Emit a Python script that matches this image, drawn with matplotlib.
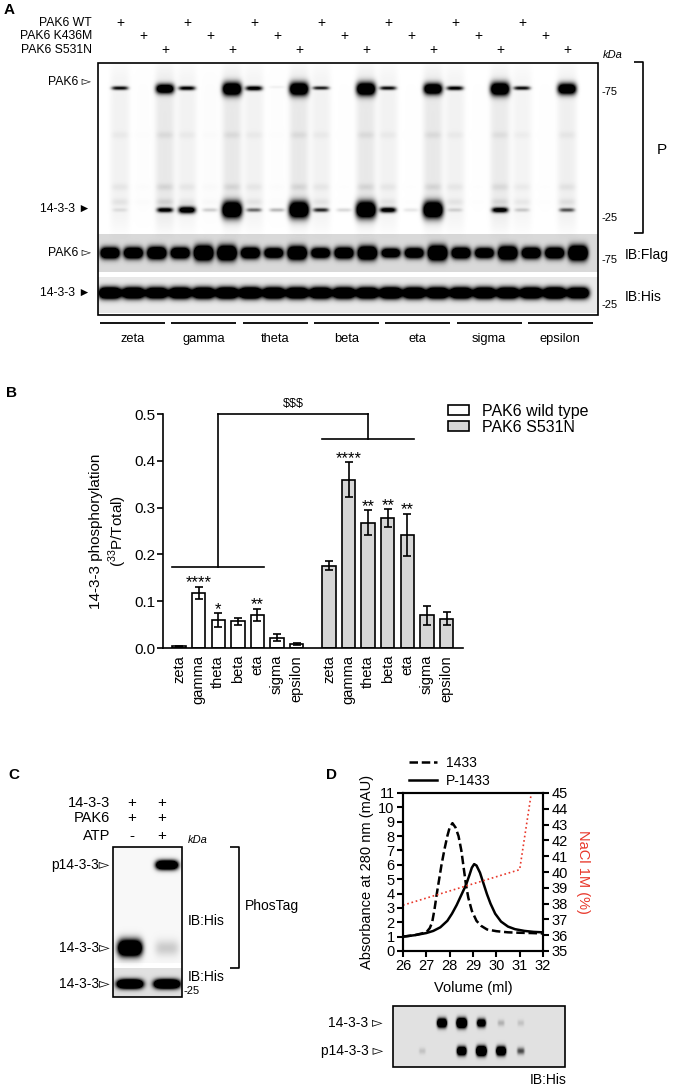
import numpy as np
import matplotlib
matplotlib.use('Agg')
import matplotlib.pyplot as plt
from matplotlib import font_manager
from matplotlib.patches import Patch, Rectangle
from matplotlib.ticker import FormatStrFormatter, MultipleLocator

# ---------------- data ----------------
isoforms = ['zeta', 'gamma', 'theta', 'beta', 'eta', 'sigma', 'epsilon']
constructs = ['PAK6 WT', 'PAK6 K436M', 'PAK6 S531N']

auto_pak6 = [[0.55, 0.0, 0.9], [0.6, 0.0, 1.0], [0.65, 0.03, 1.0], [0.5, 0.0, 1.0],
             [0.55, 0.0, 0.95], [0.6, 0.0, 1.0], [0.55, 0.0, 0.95]]
phospho_1433 = [[0.05, 0.0, 0.6], [0.75, 0.1, 1.0], [0.3, 0.15, 1.0], [0.45, 0.08, 1.0],
                [0.65, 0.05, 1.0], [0.08, 0.0, 0.65], [0.1, 0.0, 0.35]]
lane_smear = [[0.6, 0.1, 1.0], [0.6, 0.15, 1.0], [0.6, 0.1, 1.0], [0.6, 0.05, 1.0],
              [0.6, 0.05, 1.0], [0.6, 0.05, 0.9], [0.5, 0.05, 0.7]]
flag_total = [[0.85, 0.85, 0.9], [0.85, 1.0, 1.0], [0.85, 0.8, 0.95], [0.8, 0.85, 0.95],
              [0.75, 0.8, 1.0], [0.85, 0.8, 0.95], [0.85, 0.85, 1.0]]
his_total = [[1.0, 0.95, 0.9], [0.95, 0.95, 1.0], [1.0, 0.95, 0.95], [0.95, 0.95, 0.95],
             [1.0, 0.95, 0.95], [0.95, 0.95, 0.95], [0.95, 1.0, 0.9]]

# B: 14-3-3 phosphorylation (33P/Total), mean and error
wt_mean = [0.004, 0.118, 0.060, 0.057, 0.071, 0.022, 0.0085]
wt_err = [0.001, 0.013, 0.015, 0.008, 0.013, 0.007, 0.002]
sn_mean = [0.176, 0.360, 0.268, 0.277, 0.242, 0.070, 0.063]
sn_err = [0.010, 0.037, 0.027, 0.019, 0.045, 0.020, 0.014]
wt_stars = ['', '****', '*', '', '**', '', '']
sn_stars = ['', '****', '**', '**', '**', '', '']

# C: PhosTag blot
c_rows = ['14-3-3', 'PAK6', 'ATP']
c_signs = [['+', '+'], ['+', '+'], ['-', '+']]
c_phospho = [0.0, 1.0]
c_unphos = [1.0, 0.08]
c_total = [1.0, 1.0]

# D: elution profiles
vol_1433 = [26.0, 26.5, 27.0, 27.15, 27.25, 27.35, 27.45, 27.55, 27.65, 27.78, 27.9, 28.0,
            28.12, 28.25, 28.38, 28.5, 28.6, 28.7, 28.8, 28.95, 29.15, 29.35, 29.6, 30.0,
            30.5, 31.0, 31.5, 32.0]
abs_1433 = [1.0, 1.1, 1.3, 1.6, 2.0, 2.9, 4.0, 5.0, 6.0, 7.1, 8.0, 8.6,
            8.9, 8.6, 8.0, 7.0, 5.8, 4.6, 3.7, 2.8, 2.1, 1.75, 1.5, 1.38,
            1.3, 1.27, 1.25, 1.22]
vol_p1433 = [26.0, 26.5, 27.0, 27.3, 27.6, 27.9, 28.1, 28.3, 28.5, 28.7, 28.85, 28.95,
             29.05, 29.15, 29.3, 29.45, 29.6, 29.75, 29.95, 30.2, 30.5, 30.8, 31.2, 31.6, 32.0]
abs_p1433 = [1.0, 1.1, 1.25, 1.4, 1.65, 2.1, 2.6, 3.2, 3.9, 4.6, 5.3, 5.8,
             6.05, 5.95, 5.45, 4.7, 3.95, 3.3, 2.6, 2.05, 1.7, 1.52, 1.4, 1.33, 1.3]
vol_nacl = [26.0, 31.0, 31.5]
nacl_pct = [37.9, 40.15, 45.0]
dot_1433 = [0.0, 0.0, 0.85, 1.0, 0.65, 0.08, 0.05]
dot_p1433 = [0.0, 0.05, 0.0, 0.8, 1.0, 0.85, 0.25]

# ---------------- fonts ----------------
installed = {f.name for f in font_manager.fontManager.ttflist}
plt.rcParams['font.family'] = ['Liberation Sans', 'DejaVu Sans']
plt.rcParams['mathtext.fontset'] = 'custom'
plt.rcParams['mathtext.rm'] = 'Liberation Sans'
if 'Liberation Sans Narrow' in installed:
    A_FONT = ['Liberation Sans Narrow', 'DejaVu Sans']
    A_SIZE = 10
else:
    A_FONT = ['Liberation Sans', 'DejaVu Sans']
    A_SIZE = 8.8

W, H = 674, 1092
fig = plt.figure(figsize=(W / 100, H / 100), dpi=100)
ov = fig.add_axes([0, 0, 1, 1])
ov.axis('off')


def px_axes(x0, y0, x1, y1):
    return fig.add_axes([x0 / W, 1 - y1 / H, (x1 - x0) / W, (y1 - y0) / H])


def put(x, y, s, size=10, ha='left', va='center', **kw):
    ov.text(x, y, s, fontsize=size, ha=ha, va=va, **kw)


def line(xs, ys, lw=1.2):
    ov.plot(xs, ys, color='k', lw=lw, solid_capstyle='butt')


def blot(x0, y0, x1, y1, strips, bands):
    w, h = x1 - x0, y1 - y0
    yy, xx = np.mgrid[0:h, 0:w] + 0.5
    img = np.zeros((h, w))
    for r0, r1, level in strips:
        img[r0:r1] = level
    for cx, cy, hw, hh, amp, py in bands:
        img += amp * np.exp(-np.abs((xx - cx) / hw) ** 4 - np.abs((yy - cy) / hh) ** py)
    ov.imshow(np.clip(img, 0, 1), cmap='gray_r', vmin=0, vmax=1,
              extent=(x0, x1, y1, y0), interpolation='bilinear')
    ov.add_patch(Rectangle((x0, y0), w, h, fill=False, ec='k', lw=1.2))


# ---------------- panel A ----------------
bx0, by0, bx1, by1 = 98, 63, 598, 315


def p_lane(g, k):
    return 22 + 67 * g + (0, 23, 45)[k]


def low_lane(g, k):
    return 12 + 23.4 * (3 * g + k)


bands = []
for g in range(7):
    for k in range(3):
        cx = p_lane(g, k)
        s = lane_smear[g][k]
        bands.append((cx, 85, 10, 82, 0.09 * s, 8))
        for cy, a in ((72, 0.06), (124, 0.08), (139, 0.10)):
            bands.append((cx, cy, 8.5, 3.5, a * s, 2))
        v = auto_pak6[g][k]
        bands.append((cx, 24 + 2 * v, 8 + 1.5 * v ** 3, 1.5 + 5 * v ** 4, 1.7 * v, 2))
        v = phospho_1433[g][k]
        bands.append((cx, 147, 7.5 + 2.5 * v ** 3, 2 + 6 * v ** 5, 1.8 * v, 2))
        cx = low_lane(g, k)
        v = flag_total[g][k]
        bands.append((cx, 190, 9.5, 3 + 4 * v ** 3, 2.2 * v, 2))
        v = his_total[g][k]
        bands.append((cx, 230, 11, 5.5, 2.2 * v, 2))
blot(bx0, by0, bx1, by1, [(171, 209, 0.15), (214, 250, 0.09)], bands)

put(4, 10, 'A', 11, weight='bold')
for r, (name, y) in enumerate(zip(constructs, (23, 36, 50))):
    put(92, y, name, A_SIZE, ha='right', family=A_FONT)
    for g in range(7):
        put(bx0 + p_lane(g, r), y, '+', 10, ha='center')

put(91, 82, 'PAK6 \u25bb', A_SIZE, ha='right', family=A_FONT)
put(91, 209, '14-3-3 \u25ba', A_SIZE, ha='right', family=A_FONT)
put(91, 253, 'PAK6 \u25bb', A_SIZE, ha='right', family=A_FONT)
put(91, 293, '14-3-3 \u25ba', A_SIZE, ha='right', family=A_FONT)

put(613, 55, 'kDa', 8, ha='center', style='italic', family=A_FONT)
for y, mw in ((92, '-75'), (218, '-25'), (260, '-75'), (305, '-25')):
    put(602, y, mw, 8, family=A_FONT)
put(625, 255, 'IB:Flag', 10)
put(625, 297, 'IB:His', 10)
line([634, 643, 643, 634], [62, 62, 233, 233])
put(657, 150, 'P', 11)

for g, name in enumerate(isoforms):
    x0 = 100 + 71.3 * g
    line([x0, x0 + 65], [323, 323], lw=1.3)
    put(x0 + 32.5, 339, name, A_SIZE + 0.5, ha='center', family=A_FONT)

# ---------------- panel B ----------------
put(6, 393, 'B', 11, weight='bold')
axb = px_axes(163, 414, 463, 648)
pos_wt = np.arange(7)
pos_sn = np.arange(7) + 7.65
bw = 0.68
axb.bar(pos_wt, wt_mean, bw, color='white', edgecolor='k', lw=1.2, label='PAK6 wild type', zorder=2)
axb.bar(pos_sn, sn_mean, bw, color='#d6d6d6', edgecolor='k', lw=1.2, label='PAK6 S531N', zorder=2)
axb.errorbar(pos_wt, wt_mean, yerr=wt_err, fmt='none', ecolor='k', elinewidth=1.2,
             capsize=3, capthick=1.2, zorder=3)
axb.errorbar(pos_sn, sn_mean, yerr=sn_err, fmt='none', ecolor='k', elinewidth=1.2,
             capsize=3, capthick=1.2, zorder=3)
for pos, mean, err, stars in ((pos_wt, wt_mean, wt_err, wt_stars), (pos_sn, sn_mean, sn_err, sn_stars)):
    for x, m, e, s in zip(pos, mean, err, stars):
        if s:
            axb.text(x, m + e + 0.008, s, ha='center', va='center', fontsize=12)

# group comparison bracket
for pos, yb in ((pos_wt, 0.173), (pos_sn, 0.446)):
    axb.plot([pos[0] - bw / 2, pos[4] + bw / 2], [yb, yb], color='k', lw=1.2, clip_on=False)
    xc = (pos[0] + pos[4]) / 2
    axb.plot([xc, xc], [yb, 0.5], color='k', lw=1.2, clip_on=False)
xl, xr = (pos_wt[0] + pos_wt[4]) / 2, (pos_sn[0] + pos_sn[4]) / 2
axb.plot([xl, xr], [0.5, 0.5], color='k', lw=1.2, clip_on=False)
axb.text((xl + xr) / 2, 0.522, '$$$', ha='center', va='center', fontsize=9)

axb.set_xlim(-0.82, 14.49)
axb.set_ylim(0, 0.5)
axb.set_xticks(np.concatenate([pos_wt, pos_sn]))
axb.set_xticklabels(isoforms + isoforms, rotation=90, fontsize=10.5, va='top')
axb.tick_params(axis='x', length=0, pad=5)
axb.yaxis.set_major_locator(MultipleLocator(0.1))
axb.yaxis.set_major_formatter(FormatStrFormatter('%.1f'))
axb.tick_params(axis='y', labelsize=11, length=4, width=1.2, pad=1.5)
for side in ('top', 'right'):
    axb.spines[side].set_visible(False)
for side in ('left', 'bottom'):
    axb.spines[side].set_linewidth(1.2)
axb.set_ylabel('14-3-3 phosphorylation\n($^{33}$P/Total)', fontsize=11)
axb.yaxis.label.set(rotation_mode='default', ha='center', va='center')
axb.yaxis.set_label_coords(-0.18, 0.5)
axb.legend(handles=[Patch(fc='white', ec='k', lw=1.2), Patch(fc='#d6d6d6', ec='k', lw=1.2)],
           labels=['PAK6 wild type', 'PAK6 S531N'], loc='upper left',
           bbox_to_anchor=(448 / W, 1 - 404 / H), bbox_transform=fig.transFigure,
           frameon=False, borderpad=0, borderaxespad=0, handlelength=1.3, handleheight=0.6,
           handletextpad=0.8, labelspacing=0.06, fontsize=11.5)

# ---------------- panel C ----------------
put(8, 775, 'C', 11, weight='bold')
for r, (name, y) in enumerate(zip(c_rows, (803, 818, 836))):
    put(110, y, name, 10.5, ha='right')
    for lane, x in enumerate((132, 162)):
        put(x, y, c_signs[r][lane], 11, ha='center')
put(188, 840, 'kDa', 8, style='italic')
c_bands = []
for lane, cx in enumerate((17, 54)):
    c_bands.append((cx, 18, 11, 4.5, 2.2 * c_phospho[lane], 2))
    c_bands.append((cx, 101, 12, 8, 2.2 * c_unphos[lane], 2))
    c_bands.append((cx, 137, 13, 4.5, 2.2 * c_total[lane], 2))
blot(113, 847, 182, 997, [(0, 116, 0.03), (121, 150, 0.12)], c_bands)
put(110, 865, 'p14-3-3\u25bb', 10, ha='right')
put(110, 948, '14-3-3\u25bb', 10, ha='right')
put(110, 984, '14-3-3\u25bb', 10, ha='right')
put(188, 921, 'IB:His', 10)
put(188, 977, 'IB:His', 10)
put(183, 991, '-25', 8)
line([230, 239, 239, 230], [847, 847, 968, 968])
put(245, 906, 'PhosTag', 10)

# ---------------- panel D ----------------
put(326, 775, 'D', 11, weight='bold')
axd = px_axes(403, 793, 543, 951)
h1, = axd.plot(vol_1433, abs_1433, color='k', lw=1.8, dashes=(3.4, 1.5))
h2, = axd.plot(vol_p1433, abs_p1433, color='k', lw=1.8)
axd.set_xlim(26, 32)
axd.set_ylim(0, 11)
axd.xaxis.set_major_locator(MultipleLocator(1))
axd.yaxis.set_major_locator(MultipleLocator(1))
axd2 = axd.twinx()
axd2.plot(vol_nacl, nacl_pct, color='#e8372a', lw=1.2, ls=':')
axd2.set_ylim(35, 45)
axd2.yaxis.set_major_locator(MultipleLocator(1))
for a in (axd, axd2):
    for sp in a.spines.values():
        sp.set_linewidth(1.5)
    a.tick_params(labelsize=10.5, length=4, width=1.5, pad=2)
axd.set_xlabel('Volume (ml)', fontsize=10.5)
axd.xaxis.label.set(va='center')
axd.xaxis.set_label_coords(0.5, -0.234)
axd.set_ylabel('Absorbance at 280 nm (mAU)', fontsize=10.5)
axd.yaxis.label.set(rotation_mode='default', ha='center', va='center')
axd.yaxis.set_label_coords(-0.257, 0.5)
axd2.set_ylabel('NaCl 1M (%)', fontsize=10.5, color='#e8372a', rotation=270)
axd2.yaxis.label.set(rotation_mode='default', ha='center', va='center')
axd2.yaxis.set_label_coords(1.286, 0.5)
axd.legend([h1, h2], ['1433', 'P-1433'], loc='upper left',
           bbox_to_anchor=(409 / W, 1 - 756 / H), bbox_transform=fig.transFigure,
           frameon=False, borderpad=0, borderaxespad=0, handlelength=2.0,
           handletextpad=0.65, labelspacing=0.3, fontsize=10)

d_bands = []
for f in range(7):
    cx = 9.6 + 19.7 * f
    for cy, v in ((17, dot_1433[f]), (45, dot_p1433[f])):
        r = 3.0 + 1.6 * v
        d_bands.append((cx, cy, r * 1.1, r, 2.4 * v, 2))
blot(393, 1006, 565, 1067, [(0, 61, 0.12)], d_bands)
put(383, 1023, '14-3-3 \u25bb', 10, ha='right')
put(383, 1051, 'p14-3-3 \u25bb', 10, ha='right')
put(548, 1080, 'IB:His', 10, ha='center')

ov.set_aspect('auto')
ov.set_xlim(0, W)
ov.set_ylim(H, 0)

fig.savefig('out.png', dpi=100)
